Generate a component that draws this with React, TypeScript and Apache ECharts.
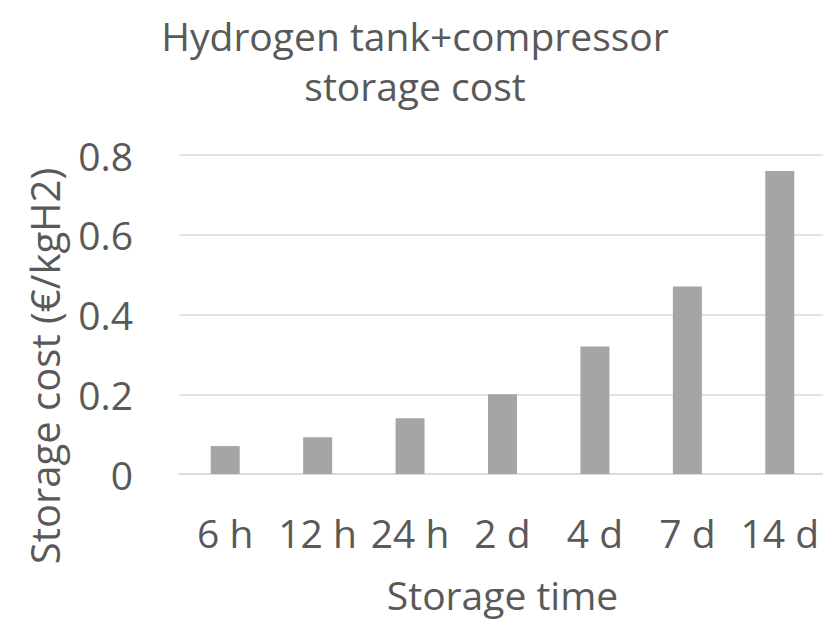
import React, { useEffect, useRef } from "react";
import * as echarts from "echarts";

const categories = ["6 h", "12 h", "24 h", "2 d", "4 d", "7 d", "14 d"];
const storageCost = [0.07, 0.092, 0.14, 0.2, 0.32, 0.47, 0.76];
const titleText = "Hydrogen tank+compressor\nstorage cost";
const yAxisName = "Storage cost (€/kgH2)";
const xAxisName = "Storage time";

const FONT = "Open Sans";
const TEXT = "#595959";
const FS = 39;

export default function App() {
  const ref = useRef<HTMLDivElement>(null);
  useEffect(() => {
    if (!ref.current) return;
    const chart = echarts.init(ref.current, null, { renderer: "svg" });
    chart.setOption({
      animation: false,
      backgroundColor: "#ffffff",
      grid: {
        left: 179,
        width: 647,
        top: 155,
        bottom: 146,
        containLabel: false,
        outerBoundsMode: "none",
      },
      xAxis: {
        type: "category",
        data: categories,
        name: xAxisName,
        nameLocation: "middle",
        nameGap: 101,
        nameTextStyle: { fontFamily: FONT, fontSize: FS, color: TEXT },
        axisLine: { show: true, lineStyle: { color: "#d9d9d9", width: 1.5 } },
        axisTick: { show: false },
        axisLabel: { fontFamily: FONT, fontSize: FS, color: TEXT, margin: 39, interval: 0 },
      },
      yAxis: {
        type: "value",
        min: 0,
        max: 0.8,
        interval: 0.2,
        axisLine: { show: false },
        axisTick: { show: false },
        splitLine: { lineStyle: { color: "#d9d9d9", width: 1.5 } },
        axisLabel: {
          fontFamily: FONT,
          fontSize: FS,
          color: TEXT,
          margin: 46,
          formatter: (v: number) => String(parseFloat(v.toFixed(1))),
        },
      },
      graphic: [
        {
          type: "text",
          x: 415,
          y: 10,
          style: {
            text: titleText,
            fontFamily: FONT,
            fontSize: FS,
            lineHeight: 50,
            fill: TEXT,
            align: "center",
            verticalAlign: "top",
          },
        },
        {
          type: "text",
          x: 44,
          y: 366,
          rotation: Math.PI / 2,
          style: {
            text: yAxisName,
            fontFamily: FONT,
            fontSize: 40,
            fill: TEXT,
            align: "center",
            verticalAlign: "middle",
          },
        },
      ],
      series: [
        {
          type: "bar",
          data: storageCost,
          barWidth: 29,
          itemStyle: { color: "#a5a5a5" },
        },
      ],
    });
    return () => chart.dispose();
  }, []);
  return <div ref={ref} style={{ width: 823, height: 620, position: "absolute", left: 0, top: 0 }} />;
}
